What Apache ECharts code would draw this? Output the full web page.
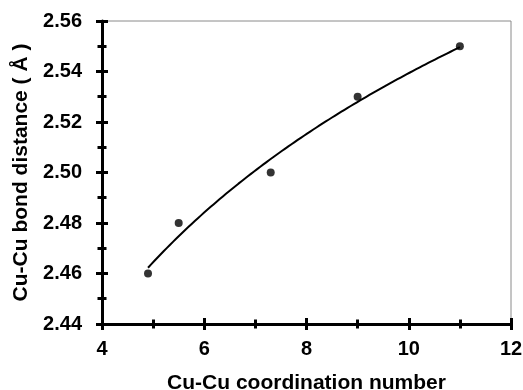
<!DOCTYPE html>
<html>
<head>
<meta charset="utf-8">
<script src="https://cdn.jsdelivr.net/npm/echarts@6/dist/echarts.min.js"></script>
<style>
  html, body { margin: 0; padding: 0; background: #fff; }
  #chart { width: 523px; height: 390px; }
</style>
</head>
<body>
<div id="chart"></div>
<script>
// Measured Cu-Cu coordination numbers and bond distances
const coordNumbers = [4.9, 5.5, 7.3, 9.0, 11.0];
const bondDistances = [2.46, 2.48, 2.50, 2.53, 2.55];

// Axis ranges
const xRange = { min: 4, max: 12, interval: 2 };
const yRange = { min: 2.44, max: 2.56, interval: 0.02 };

// Logarithmic least-squares trendline: y = a + b ln(x)
function logFit(xs, ys) {
  const lx = xs.map(Math.log);
  const n = xs.length;
  const mx = lx.reduce((s, v) => s + v, 0) / n;
  const my = ys.reduce((s, v) => s + v, 0) / n;
  let sxy = 0, sxx = 0;
  for (let i = 0; i < n; i++) {
    sxy += (lx[i] - mx) * (ys[i] - my);
    sxx += (lx[i] - mx) * (lx[i] - mx);
  }
  const b = sxy / sxx;
  return { a: my - b * mx, b: b };
}
const fit = logFit(coordNumbers, bondDistances);
const xLo = Math.min(...coordNumbers), xHi = Math.max(...coordNumbers);
const trend = [];
for (let i = 0; i <= 100; i++) {
  const x = xLo + (xHi - xLo) * i / 100;
  trend.push([x, fit.a + fit.b * Math.log(x)]);
}

const FONT = 'Liberation Sans, Arial, sans-serif';
const black = '#000';

function axisPair(range, position, isX, name, nameGap) {
  const base = {
    type: 'value',
    position: position,
    offset: 0,
    min: range.min,
    max: range.max,
    interval: range.interval,
    splitLine: { show: false },
    minorSplitLine: { show: false }
  };
  const outer = Object.assign({}, base, {
    name: name,
    nameLocation: 'middle',
    nameGap: nameGap,
    nameTextStyle: { fontFamily: FONT, fontSize: 21, fontWeight: 'bold', color: black },
    axisLine: { show: true, onZero: false, lineStyle: { color: black, width: 3 } },
    axisTick: { show: true, inside: false, length: 6, lineStyle: { color: black, width: 3 } },
    minorTick: { show: true, splitNumber: 2, length: 4.5, lineStyle: { color: black, width: 3 } },
    axisLabel: {
      show: true,
      margin: isX ? 15 : 20,
      fontFamily: FONT, fontSize: 20, fontWeight: 'bold', color: black,
      formatter: isX ? (v => String(Math.round(v))) : (v => v.toFixed(2))
    }
  });
  // companion axis that draws the inner half of each tick
  const inner = Object.assign({}, base, {
    axisLine: { show: false, onZero: false },
    axisTick: { show: true, inside: true, length: 6, lineStyle: { color: black, width: 3 } },
    minorTick: { show: true, splitNumber: 2, length: 4.5, lineStyle: { color: black, width: 3 } },
    axisLabel: { show: false }
  });
  return [outer, inner];
}

const chart = echarts.init(document.getElementById('chart'), null, { renderer: 'canvas' });
chart.setOption({
  animation: false,
  backgroundColor: '#fff',
  grid: {
    left: 102, right: 12, top: 21, bottom: 66,
    containLabel: false,
    outerBoundsMode: 'none',
    show: true, borderColor: '#8a8a8a', borderWidth: 1, backgroundColor: 'transparent'
  },
  xAxis: axisPair(xRange, 'bottom', true, 'Cu-Cu coordination number', 49),
  yAxis: axisPair(yRange, 'left', false, 'Cu-Cu bond distance ( Å )', 70),
  series: [
    {
      type: 'line',
      data: trend,
      showSymbol: false,
      smooth: false,
      lineStyle: { color: black, width: 2 },
      z: 2
    },
    {
      type: 'scatter',
      data: coordNumbers.map((x, i) => [x, bondDistances[i]]),
      symbol: 'circle',
      symbolSize: 8,
      itemStyle: { color: black },
      z: 3
    }
  ]
});
</script>
</body>
</html>
